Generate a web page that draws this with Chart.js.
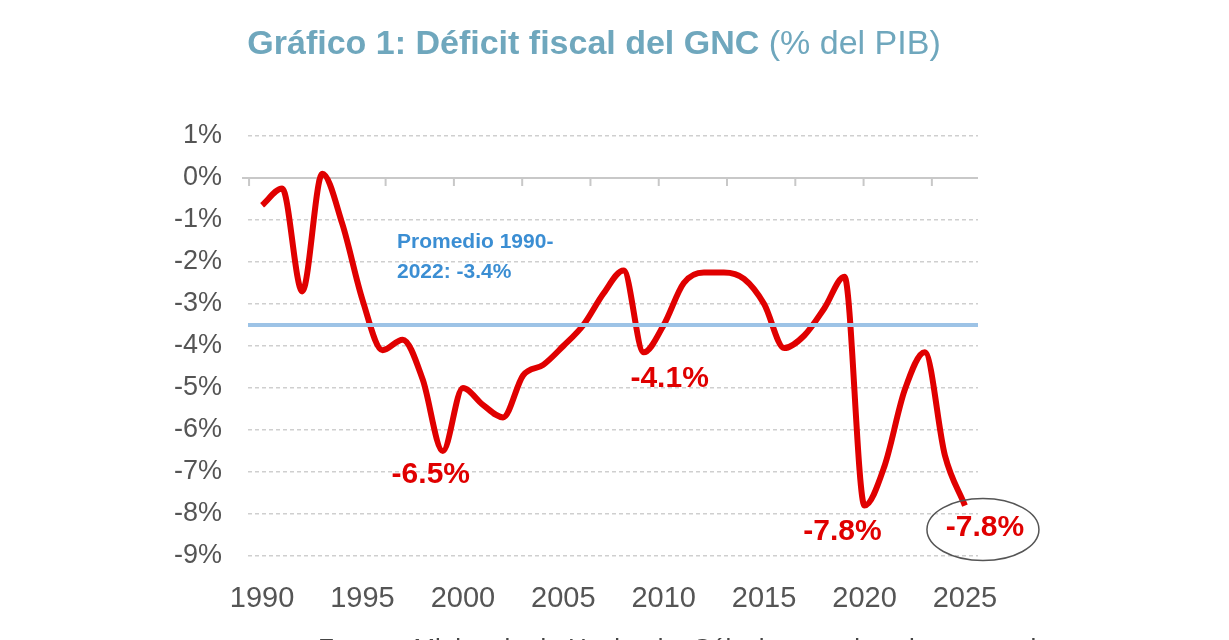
<!DOCTYPE html>
<html>
<head>
<meta charset="utf-8">
<script src="https://cdn.jsdelivr.net/npm/chart.js@4"></script>
<style>
  html, body { margin: 0; padding: 0; background: #fff; }
  canvas { display: block; }
</style>
</head>
<body>
<canvas id="chart" width="1229" height="640"></canvas>
<script>
// data
const years = [1990, 1991, 1992, 1993, 1994, 1995, 1996, 1997, 1998, 1999,
  2000, 2001, 2002, 2003, 2004, 2005, 2006, 2007, 2008, 2009,
  2010, 2011, 2012, 2013, 2014, 2015, 2016, 2017, 2018, 2019,
  2020, 2021, 2022, 2023, 2024, 2025];
const deficit = [-0.65, -0.25, -2.7, 0.1, -1.1, -2.9, -4.1, -3.85, -4.8, -6.5,
  -5.0, -5.4, -5.7, -4.7, -4.45, -4.0, -3.5, -2.75, -2.2, -4.15,
  -3.5, -2.5, -2.25, -2.25, -2.4, -3.0, -4.05, -3.75, -3.1, -2.35,
  -7.8, -6.85, -5.05, -4.15, -6.6, -7.8];
const promedio = -3.5;
const xTicks = [1990, 1995, 2000, 2005, 2010, 2015, 2020, 2025];
const yMin = -9, yMax = 1;
const xMin = 1989.3, xMax = 2025.65;
const callouts = [
  { year: 1999, text: "-6.5%", dx: -12, dy: 24 },
  { year: 2009, text: "-4.1%", dx: 26, dy: 26 },
  { year: 2020, text: "-7.8%", dx: -22, dy: 26 },
  { year: 2025, text: "-7.8%", dx: 20, dy: 22, circle: true }
];

const FONT = "'Liberation Sans', Arial, sans-serif";

const decor = {
  id: "decor",
  beforeDatasetsDraw(chart) {
    const { ctx, chartArea, scales } = chart;
    const y0 = scales.y.getPixelForValue(0);
    ctx.save();
    ctx.strokeStyle = "#c8c8c8";
    ctx.lineWidth = 2;
    ctx.beginPath();
    ctx.moveTo(chartArea.left - 6, y0);
    ctx.lineTo(chartArea.right, y0);
    ctx.stroke();
    for (let v = 1990; v <= 2025; v += 3.4) {
      const px = scales.x.getPixelForValue(v);
      ctx.beginPath();
      ctx.moveTo(px - 13, y0);
      ctx.lineTo(px - 13, y0 + 8);
      ctx.stroke();
    }
    ctx.restore();
  },
  afterDraw(chart) {
    const { ctx, scales } = chart;
    ctx.save();
    // title
    ctx.textBaseline = "middle";
    const t1 = "Gráfico 1: Déficit fiscal del GNC";
    const t2 = " (% del PIB)";
    ctx.font = "bold 34px " + FONT;
    const w1 = ctx.measureText(t1).width;
    ctx.font = "34px " + FONT;
    const w2 = ctx.measureText(t2).width;
    let x = 594 - (w1 + w2) / 2;
    ctx.fillStyle = "#6fa7bd";
    ctx.font = "bold 34px " + FONT;
    ctx.fillText(t1, x, 45);
    ctx.font = "34px " + FONT;
    ctx.fillText(t2, x + w1, 45);

    // promedio label
    ctx.fillStyle = "#3b8ed3";
    ctx.font = "bold 21px " + FONT;
    ctx.textAlign = "left";
    ctx.fillText("Promedio 1990-", 397, 242);
    ctx.fillText("2022: -3.4%", 397, 272);

    // callouts
    ctx.font = "bold 30px " + FONT;
    ctx.textAlign = "center";
    callouts.forEach(c => {
      const i = years.indexOf(c.year);
      const px = scales.x.getPixelForValue(c.year) + c.dx;
      const py = scales.y.getPixelForValue(deficit[i]) + c.dy;
      ctx.fillStyle = "#e00000";
      ctx.fillText(c.text, px, py);
      if (c.circle) {
        ctx.strokeStyle = "#555";
        ctx.lineWidth = 1.5;
        ctx.beginPath();
        ctx.ellipse(px - 2, py + 2, 56, 31, 0, 0, Math.PI * 2);
        ctx.stroke();
      }
    });

    // source, cut by the bottom edge
    ctx.fillStyle = "#444";
    ctx.font = "26px " + FONT;
    ctx.textAlign = "left";
    ctx.fillText("Fuente: Ministerio de Hacienda. Cálculos y estimaciones propias", 318, 650);
    ctx.restore();
  }
};

new Chart(document.getElementById("chart"), {
  type: "line",
  data: {
    datasets: [
      {
        data: [{ x: xMin, y: promedio }, { x: xMax, y: promedio }],
        borderColor: "#9dc3e6",
        borderWidth: 4,
        pointRadius: 0
      },
      {
        data: years.map((yr, i) => ({ x: yr, y: deficit[i] })),
        borderColor: "#e00000",
        borderWidth: 6,
        pointRadius: 0,
        tension: 0.4,
        cubicInterpolationMode: "monotone"
      }
    ]
  },
  options: {
    responsive: false,
    animation: false,
    layout: { padding: { top: 136, right: 251, left: 0, bottom: 0 } },
    plugins: { legend: { display: false }, tooltip: { enabled: false } },
    scales: {
      x: {
        type: "linear",
        min: xMin,
        max: xMax,
        afterBuildTicks: s => { s.ticks = xTicks.map(v => ({ value: v })); },
        afterFit: s => { s.height = 84; },
        grid: { display: false },
        border: { display: false },
        ticks: {
          padding: 18,
          color: "#555",
          font: { family: FONT, size: 29 },
          callback: v => String(v),
          maxRotation: 0
        }
      },
      y: {
        min: yMin,
        max: yMax,
        afterFit: s => { s.width = 248; },
        grid: { color: "#cfcfcf", lineWidth: 1.5, drawTicks: false },
        border: { display: false, dash: [4, 3] },
        ticks: {
          stepSize: 1,
          padding: 26,
          color: "#555",
          font: { family: FONT, size: 27 },
          callback: v => v + "%"
        }
      }
    }
  },
  plugins: [decor]
});
</script>
</body>
</html>
